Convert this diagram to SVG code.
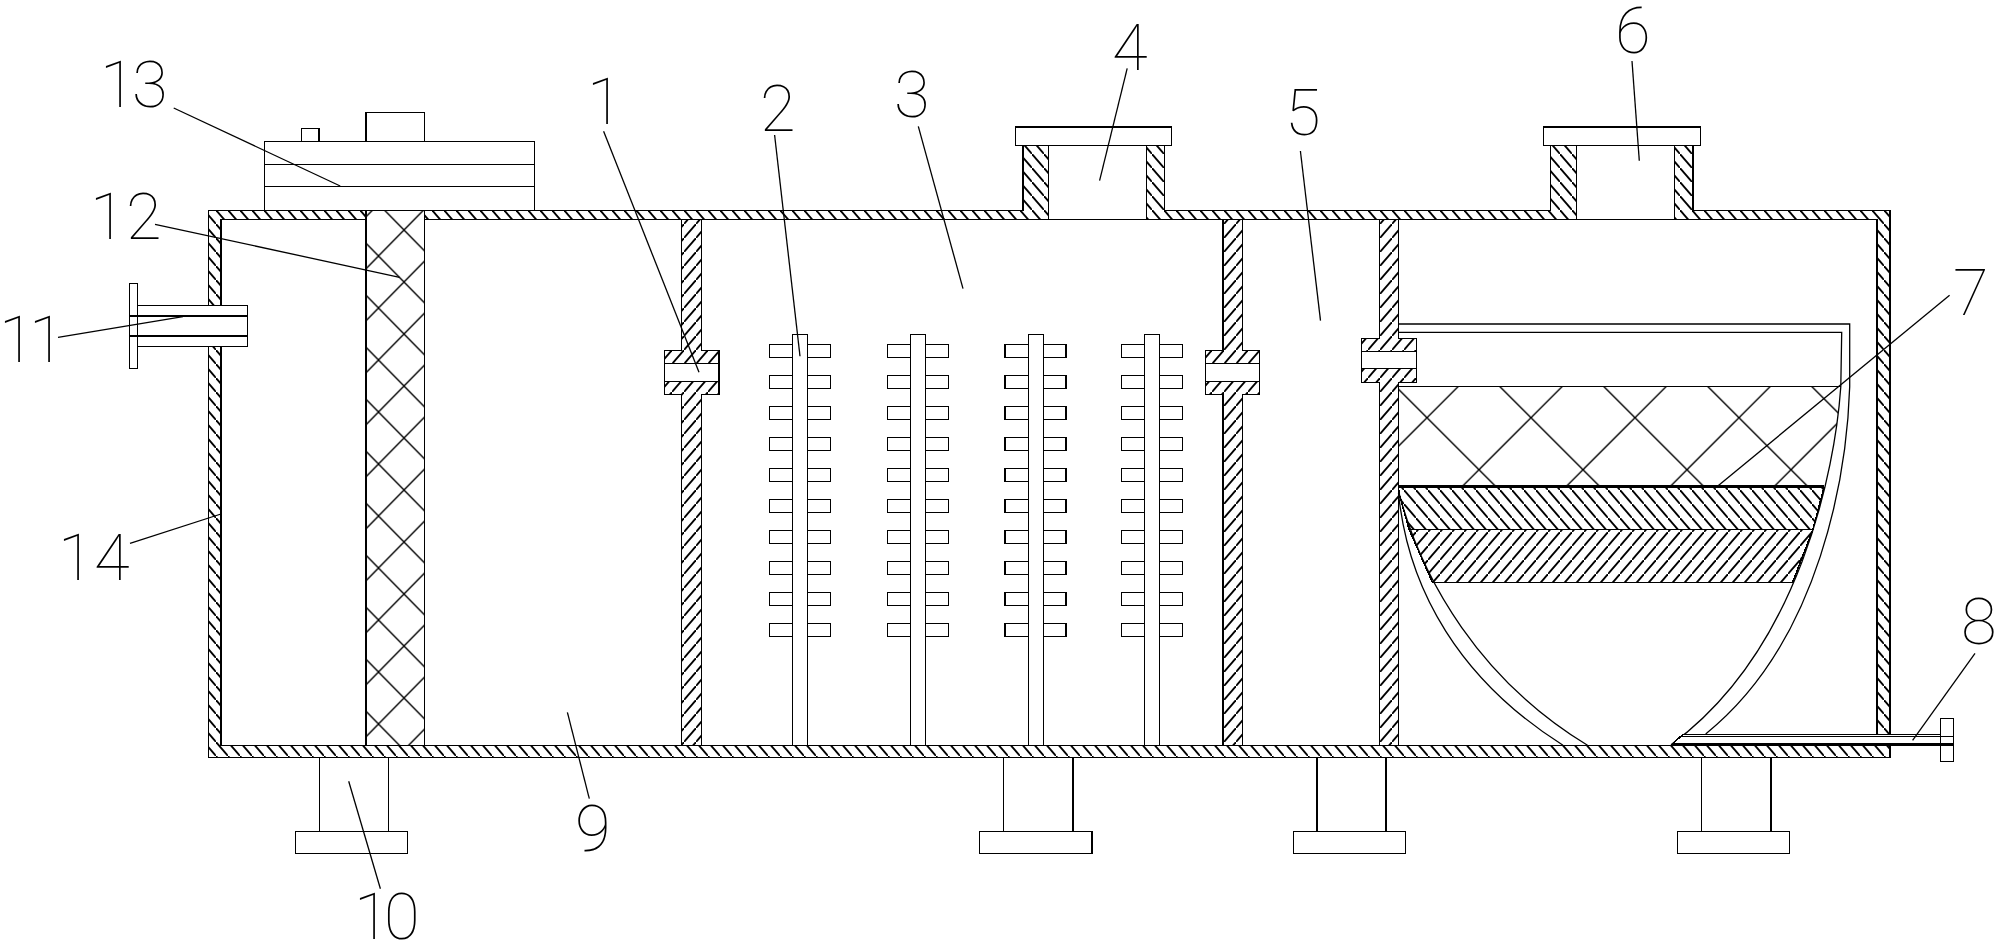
<svg xmlns="http://www.w3.org/2000/svg" width="1999" height="945" viewBox="0 0 1999 945">
<style>
.s{stroke:#000;stroke-width:1.5;fill:none;shape-rendering:crispEdges}
.w{stroke:#000;stroke-width:1.5;fill:#fff;shape-rendering:crispEdges}
.b{stroke:#000;stroke-width:1.5;fill:url(#hb);shape-rendering:crispEdges}
.f{stroke:#000;stroke-width:1.5;fill:url(#hf);shape-rendering:crispEdges}
.l{stroke:#000;stroke-width:1.3;fill:none}
.t{font-family:Roboto,"Liberation Sans",sans-serif;font-weight:100;font-size:65px;fill:#000}
</style>
<defs>
<pattern id="hb" patternUnits="userSpaceOnUse" width="12" height="14"><path d="M-1 -1.17L13 15.17" stroke="#000" stroke-width="1.8" fill="none"/></pattern>
<pattern id="hf" patternUnits="userSpaceOnUse" width="12" height="14"><path d="M-1 15.17L13 -1.17" stroke="#000" stroke-width="1.8" fill="none"/></pattern>
<pattern id="x1" patternUnits="userSpaceOnUse" x="378.5" y="204" width="51" height="52"><path d="M0 0L51 52M0 52L51 0" stroke="#000" stroke-width="1.4" fill="none"/></pattern>
<pattern id="x2" patternUnits="userSpaceOnUse" x="1375" y="365.7" width="104" height="104"><path d="M0 0L104 104M0 104L104 0" stroke="#000" stroke-width="1.4" fill="none"/></pattern>
<g id="row">
<rect class="w" x="0" y="0" width="61" height="13.3"/><rect class="w" x="0" y="31" width="61" height="13.3"/><rect class="w" x="0" y="62" width="61" height="13.3"/><rect class="w" x="0" y="93" width="61" height="13.3"/><rect class="w" x="0" y="124" width="61" height="13.3"/><rect class="w" x="0" y="155" width="61" height="13.3"/><rect class="w" x="0" y="186" width="61" height="13.3"/><rect class="w" x="0" y="217" width="61" height="13.3"/><rect class="w" x="0" y="248" width="61" height="13.3"/><rect class="w" x="0" y="279" width="61" height="13.3"/>
</g>
</defs>
<g id="housing">
<path class="b" fill-rule="evenodd" d="M208.5 757.3V210.3H1022.8V145.7H1048.7V219.3H1146.4V145.7H1164.7V210.3H1550.6V145.7H1576.4V219.3H1674.5V145.7H1692.8V210.3H1890V757.3ZM221 219.3H1877V745.3H221Z"/>
</g>
<g id="part-13">
<rect class="w" x="366" y="112.3" width="58.5" height="29"/>
<rect class="w" x="301.3" y="128.3" width="17.5" height="13"/>
<rect class="w" x="264.3" y="141.3" width="270.1" height="69"/>
<path class="s" d="M264.3 164.3H534.4M264.3 186.3H534.4"/>
</g>
<g id="part-12">
<rect x="366" y="210.3" width="58.5" height="535" fill="#fff"/>
<rect x="366" y="210.3" width="58.5" height="535" stroke="#000" stroke-width="1.5" fill="url(#x1)" shape-rendering="crispEdges"/>
</g>
<g id="part-11">
<rect class="w" x="137.5" y="305.3" width="109.8" height="41.4"/>
<rect class="w" x="129.5" y="283.3" width="8" height="85.4"/>
<path class="s" style="stroke-width:2" d="M129.5 315.7H247.3M129.5 335.7H247.3"/>
</g>
<g id="part-1">
<path class="f" d="M681.7 219.3V350.3H664.3V363.3H718.8V350.3H701.3V219.3ZM664.3 381.7V394.7H681.7V745.3H701.3V394.7H718.8V381.7Z"/>
<rect class="w" x="664.3" y="363.3" width="54.5" height="18.4"/>
</g>
<g id="part-2">
<use href="#row" x="769.6" y="344.3"/><rect class="w" x="792.4" y="334.3" width="15.2" height="411"/>
<use href="#row" x="887.6" y="344.3"/><rect class="w" x="910.3" y="334.3" width="15.1" height="411"/>
<use href="#row" x="1005" y="344.3"/><rect class="w" x="1028.6" y="334.3" width="14.7" height="411"/>
<use href="#row" x="1121.5" y="344.3"/><rect class="w" x="1144.6" y="334.3" width="14.8" height="411"/>
</g>
<g id="part-4">
<rect class="w" x="1015.6" y="127" width="155.8" height="18.7"/>
</g>
<g id="part-5">
<path class="f" d="M1222.8 219.3V350.3H1205.4V363.3H1259.4V350.3H1242.4V219.3ZM1205.4 381.7V394.7H1222.8V745.3H1242.4V394.7H1259.4V381.7Z"/>
<rect class="w" x="1205.4" y="363.3" width="54" height="18.4"/>
</g>
<g id="part-6">
<rect class="w" x="1543.4" y="127" width="157" height="18.7"/>
</g>
<g id="part-7">
<path d="M1398.5 386.7H1840.8C1838 420 1833 455 1825 486.7H1398.5Z" fill="url(#x2)" shape-rendering="crispEdges"/>
<path class="s" d="M1398.5 386.7H1840.8"/>
<path class="b" d="M1398.5 487.3H1824L1813 529.3H1409L1399 493Z"/>
<path class="f" d="M1409 529.3H1813L1792.6 582.3H1432.4Z"/>
<path class="s" style="stroke-width:2.5" d="M1398.5 486.7H1824"/>
<path class="l" d="M1398.5 324H1849.7V386.7C1847 470 1822 640 1705.7 734"/>
<path class="l" d="M1398.5 332.3H1841.7L1840.8 386.7C1835 470 1800 650 1671 744.8"/>
<path class="l" d="M1398.5 493C1408 590 1460 680 1563 745.3"/>
<path class="l" d="M1399 493C1422 580 1480 680 1587.5 745.3"/>
</g>
<g id="part-partition3">
<path class="f" d="M1379.4 219.3V338.3H1361.5V351.3H1416.4V338.3H1398.5V219.3ZM1361.5 368.7V382.3H1379.4V745.3H1398.5V382.3H1416.4V368.7Z"/>
<rect class="w" x="1361.5" y="351.3" width="54.9" height="17.4"/>
</g>
<g id="part-8">
<rect x="1875" y="735" width="16" height="10" fill="#fff"/>
<path class="w" d="M1683 734.3H1940.7V745.3H1671Z"/>
<path class="s" d="M1682 736.7H1953.6"/>
<path class="s" style="stroke-width:2" d="M1672 743.8H1953.6"/>
<rect class="w" x="1940.7" y="718.3" width="12.9" height="18.4"/>
<rect class="w" x="1940.7" y="745.3" width="12.9" height="16.4"/>
<path class="s" d="M1940.7 736.7H1953.6V745.3"/>
</g>
<g id="part-10">
<path class="s" d="M319.6 757.3V831.3M388.4 757.3V831.3"/>
<rect class="w" x="295.5" y="831.3" width="112.1" height="22"/>
</g>
<g id="foot-2">
<path class="s" d="M1003.6 757.3V831.3M1072.8 757.3V831.3"/>
<rect class="w" x="979.5" y="831.3" width="112.5" height="22"/>
</g>
<g id="foot-3">
<path class="s" d="M1317 757.3V831.3M1386 757.3V831.3"/>
<rect class="w" x="1293.3" y="831.3" width="112.4" height="22"/>
</g>
<g id="foot-4">
<path class="s" d="M1701.7 757.3V831.3M1770.8 757.3V831.3"/>
<rect class="w" x="1677.6" y="831.3" width="111.9" height="22"/>
</g>
<g id="connectors">
<path class="l" d="M173.7 108L340.2 186"/>
<path class="l" d="M155 224.3L399.6 277.3"/>
<path class="l" d="M58 337.3L183 316.7"/>
<path class="l" d="M603.6 131.3L699 372.3"/>
<path class="l" d="M774.6 135L800 356.3"/>
<path class="l" d="M918.3 126.3L963 288.7"/>
<path class="l" d="M1127.2 68.3L1099.6 180.7"/>
<path class="l" d="M1300.4 151L1320.5 320.7"/>
<path class="l" d="M1632 61L1639.3 160.7"/>
<path class="l" d="M1949.6 295.3L1716.9 486.7"/>
<path class="l" d="M1975 653.3L1912.6 740.3"/>
<path class="l" d="M567.4 712.3L589.3 798.7"/>
<path class="l" d="M348.7 781.3L380.4 888.7"/>
<path class="l" d="M130 543.3L221 514"/>
</g>
<g id="labels">
<text class="t" x="100 132" y="106.7">13</text>
<text class="t" x="90 126" y="239.3">12</text>
<text class="t" x="-1 29" y="362.3">11</text>
<text class="t" x="587" y="123.7">1</text>
<text class="t" x="760" y="130.7">2</text>
<text class="t" x="894" y="116.7">3</text>
<text class="t" x="1112" y="69.7">4</text>
<text class="t" x="1285" y="134.7">5</text>
<text class="t" x="1615" y="52.7">6</text>
<text class="t" x="1953" y="315.3">7</text>
<text class="t" x="1961" y="643.7">8</text>
<text class="t" x="575" y="850.7">9</text>
<text class="t" x="354 384" y="938.7">10</text>
<text class="t" x="58 94" y="579.7">14</text>
</g>
</svg>
